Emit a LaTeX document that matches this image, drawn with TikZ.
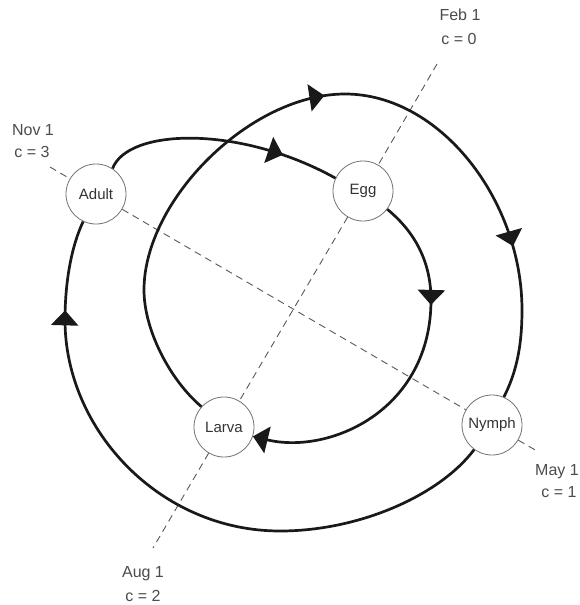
\documentclass[tikz,border=0pt]{standalone}
\usepackage{fontspec}
\setmainfont{Liberation Sans}
\usetikzlibrary{arrows.meta,decorations.markings}
\begin{document}
\begin{tikzpicture}[x=1pt,y=-1pt,
  stage/.style={circle,draw=black!55,line width=0.8pt,minimum size=60pt,inner sep=0pt,
    text=black!80,font=\fontsize{15}{18}\selectfont},
  datelabel/.style={text=black!70,font=\fontsize{16}{19}\selectfont,inner sep=0pt},
  guide/.style={draw=black!65,line width=0.9pt,dash pattern=on 7pt off 5pt},
  flow/.style={draw=black!90,line width=2.7pt},
  onearrow/.style={postaction={decorate},decoration={markings,
    mark=at position #1 with {\arrow{Triangle[length=15pt,width=27pt]}}}},
  twoarrows/.style 2 args={postaction={decorate},decoration={markings,
    mark=at position #1 with {\arrow{Triangle[length=15pt,width=27pt]}},
    mark=at position #2 with {\arrow{Triangle[length=15pt,width=27pt]}}}}
]
\useasboundingbox (0,0) rectangle (579,605);
\fill[white] (0,0) rectangle (579,605);

% stages
\node[stage] (adult) at (96,194) {Adult};
\node[stage] (egg)   at (363,191) {Egg};
\node[stage] (larva) at (224,427) {Larva};
\node[stage] (nymph) at (492,425) {Nymph};

% guide-line ends
\coordinate (febend) at (437,64);
\coordinate (augend) at (153,548);
\coordinate (novend) at (50,167);
\coordinate (mayend) at (537,451);

\draw[guide] (febend) -- (egg);
\draw[guide] (egg) -- (larva);
\draw[guide] (larva) -- (augend);
\draw[guide] (novend) -- (adult);
\draw[guide] (adult) -- (nymph);
\draw[guide] (nymph) -- (mayend);

% date labels
\node[datelabel] (feb) at (460,15) {Feb 1};
\node[datelabel] (febc) at (459,39) {c = 0};
\node[datelabel] (nov) at (33,130) {Nov 1};
\node[datelabel] (novc) at (32,152) {c = 3};
\node[datelabel] (may) at (557,472) {May 1};
\node[datelabel] (mayc) at (559,492) {c = 1};
\node[datelabel] (aug) at (143,574) {Aug 1};
\node[datelabel] (augc) at (143,596) {c = 2};

% life-cycle flows
\draw[flow,onearrow=0.76] (adult.57) .. controls (128,128) and (240,125) .. (egg.155);

\draw[flow,onearrow=0.30,-{Triangle[length=15pt,width=27pt]}]
  (egg.-37) .. controls (415,232) and (431,262) .. (431,300)
  .. controls (431,410) and (330,455) .. (larva.-18);

\draw[flow,twoarrows={0.50}{0.815}]
  (larva.138) .. controls (170,380) and (144,330) .. (144,290)
  .. controls (144,200) and (250,94) .. (345,94)
  .. controls (440,94) and (522,200) .. (522,310)
  .. controls (522,350) and (515,375) .. (nymph.67);

\draw[flow,onearrow=0.86]
  (nymph.234) .. controls (440,495) and (360,531) .. (280,531)
  .. controls (160,531) and (65,430) .. (65,320)
  .. controls (65,280) and (72,245) .. (adult.245);
\end{tikzpicture}
\end{document}
